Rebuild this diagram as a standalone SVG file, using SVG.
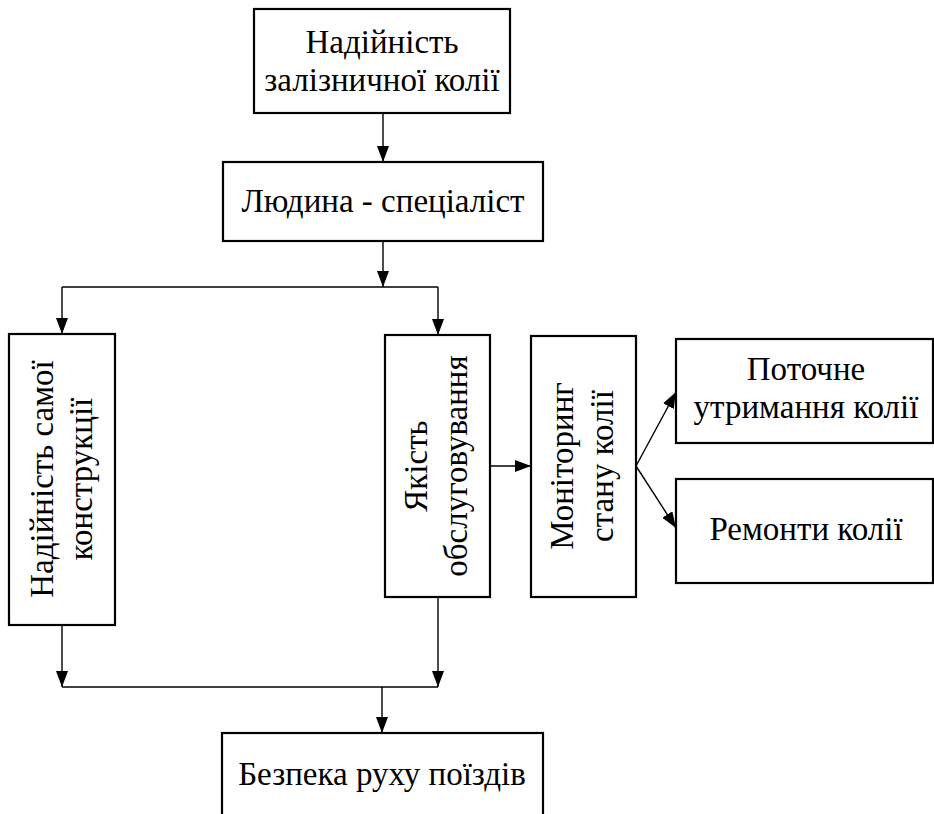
<svg xmlns="http://www.w3.org/2000/svg" width="934" height="814" viewBox="0 0 934 814">
<style>
.box{fill:#fff;stroke:#000;stroke-width:2.2}
.t{font-family:"Liberation Serif","DejaVu Serif",serif;font-size:33px;fill:#000;text-anchor:middle}
.c{fill:none;stroke:#000;stroke-width:1.4}
</style>
<defs>
<marker id="a" markerWidth="16" markerHeight="12" refX="16" refY="6" orient="auto" markerUnits="userSpaceOnUse">
<path d="M0,0 L16,6 L0,12 Z" fill="#000"/>
</marker>
</defs>
<rect width="934" height="814" fill="#fff"/>
<g id="connectors">
<path class="c" d="M383,113 V162" marker-end="url(#a)"/>
<path class="c" d="M383,241 V287" marker-end="url(#a)"/>
<path class="c" d="M62,287 H438"/>
<path class="c" d="M62,287 V334" marker-end="url(#a)"/>
<path class="c" d="M438,287 V335" marker-end="url(#a)"/>
<path class="c" d="M490,466 H531" marker-end="url(#a)"/>
<path class="c" d="M636,466 L676,392" marker-end="url(#a)"/>
<path class="c" d="M636,466 L676,528" marker-end="url(#a)"/>
<path class="c" d="M62,625 V687" marker-end="url(#a)"/>
<path class="c" d="M438,597 V687" marker-end="url(#a)"/>
<path class="c" d="M62,687 H438"/>
<path class="c" d="M382,687 V733" marker-end="url(#a)"/>
</g>
<g id="n1">
<rect class="box" x="254" y="9" width="256" height="104"/>
<text class="t" x="382" y="53">Надійність</text>
<text class="t" x="382" y="91">залізничної колії</text>
</g>
<g id="n2">
<rect class="box" x="223" y="162" width="320" height="79"/>
<text class="t" x="383" y="212">Людина - спеціаліст</text>
</g>
<g id="n3">
<rect class="box" x="9" y="334" width="106" height="291"/>
<text class="t" transform="rotate(-90 53 479)" x="53" y="479">Надійність самої</text>
<text class="t" transform="rotate(-90 92 479)" x="92" y="479">конструкції</text>
</g>
<g id="n4">
<rect class="box" x="385" y="335" width="105" height="262"/>
<text class="t" transform="rotate(-90 427 466)" x="427" y="466">Якість</text>
<text class="t" transform="rotate(-90 467 466)" x="467" y="466">обслуговування</text>
</g>
<g id="n5">
<rect class="box" x="531" y="336" width="105" height="261"/>
<text class="t" transform="rotate(-90 573 466)" x="573" y="466">Моніторинг</text>
<text class="t" transform="rotate(-90 613 466)" x="613" y="466">стану колії</text>
</g>
<g id="n6">
<rect class="box" x="676" y="339" width="257" height="104"/>
<text class="t" x="806" y="380">Поточне</text>
<text class="t" x="806" y="418">утримання колії</text>
</g>
<g id="n7">
<rect class="box" x="676" y="479" width="257" height="104"/>
<text class="t" x="806" y="540">Ремонти колії</text>
</g>
<g id="n8">
<rect class="box" x="222" y="733" width="321" height="90"/>
<text class="t" x="382" y="785">Безпека руху поїздів</text>
</g>
</svg>
